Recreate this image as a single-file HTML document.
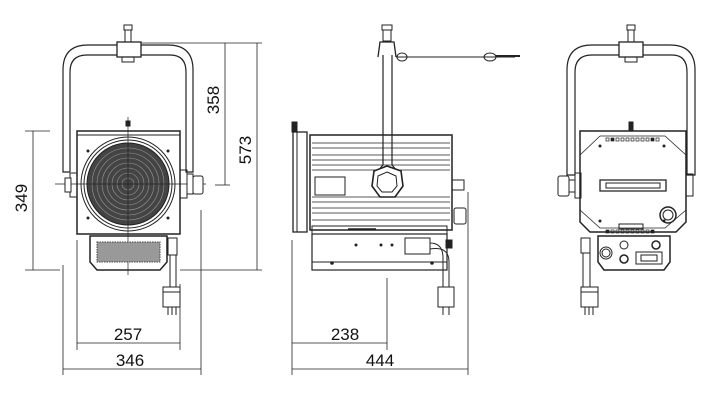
<!DOCTYPE html>
<html><head><meta charset="utf-8"><style>
html,body{margin:0;padding:0;background:#fff;}
svg{display:block;}
text{font-family:"Liberation Sans",sans-serif;font-size:17px;fill:#111;stroke:none;}
</style></head><body>
<svg width="715" height="400" viewBox="0 0 715 400" xmlns="http://www.w3.org/2000/svg" fill="none" stroke="#222" stroke-width="1">
<!-- ===== LEFT VIEW ===== -->
<path d="M70,172 L63,172 L63,70 Q63,45 88,45 L117,45 M141,45 L168,45 Q193,45 193,70 L193,172 L186,172 L186,72 Q186,55 170,55 L141,55 M117,55 L87,55 Q70,55 70,72 L70,172" stroke-width="1.2"/>
<rect x="117" y="42" width="24" height="15" stroke-width="1.3"/>
<rect x="122" y="57" width="12" height="5"/>
<rect x="125" y="27" width="6" height="15"/>
<rect x="124" y="25" width="8" height="5" fill="#fff"/>
<rect x="77" y="131" width="103" height="103" stroke-width="1.5"/>
<line x1="77" y1="135" x2="180" y2="135"/>
<rect x="126" y="121" width="4" height="5" fill="#222"/>
<circle cx="128" cy="184" r="47"/>
<circle cx="128" cy="184" r="44"/>
<circle cx="128" cy="184" r="41" fill="#444"/>
<g stroke="#999" stroke-width="0.6">
<circle cx="128" cy="184" r="36"/><circle cx="128" cy="184" r="31"/><circle cx="128" cy="184" r="26"/><circle cx="128" cy="184" r="21"/><circle cx="128" cy="184" r="16"/><circle cx="128" cy="184" r="11"/><circle cx="128" cy="184" r="6"/>
</g>
<g fill="#222" stroke="none"><circle cx="88" cy="151" r="1.5"/><circle cx="168" cy="151" r="1.5"/><circle cx="88" cy="218" r="1.5"/><circle cx="168" cy="218" r="1.5"/></g>
<line x1="55" y1="184" x2="206" y2="184" stroke-width="0.7"/>
<line x1="128" y1="117" x2="128" y2="275" stroke-width="0.7"/>
<rect x="70" y="173" width="7" height="24"/>
<rect x="65" y="178" width="6" height="14" fill="#fff"/>
<rect x="180" y="170" width="7" height="28"/>
<rect x="187" y="174" width="6" height="20" fill="#fff"/>
<rect x="193" y="176" width="10" height="18" rx="2" fill="#fff"/>
<path d="M90,236 L167,236 L167,262 L160,270 L97,270 L90,262 Z" stroke-width="1.5"/>
<rect x="97" y="242" width="63" height="20" fill="#999" stroke="#444" stroke-dasharray="1.5 1"/>
<rect x="168" y="238" width="9" height="17"/>
<line x1="170" y1="255" x2="170" y2="287"/><line x1="176" y1="255" x2="176" y2="287"/>
<rect x="163" y="287" width="17" height="20"/>
<line x1="163" y1="292" x2="180" y2="292"/>
<line x1="168" y1="307" x2="168" y2="315"/><line x1="172" y1="307" x2="172" y2="315"/><line x1="176" y1="307" x2="176" y2="315"/>
<!-- dims left -->
<g stroke-width="0.8">
<line x1="141" y1="43" x2="262" y2="43"/>
<line x1="225" y1="43" x2="225" y2="185"/><line x1="215" y1="185" x2="230" y2="185"/>
<line x1="257" y1="43" x2="257" y2="270"/><line x1="180" y1="270" x2="262" y2="270"/>
<line x1="25" y1="131" x2="50" y2="131"/><line x1="25" y1="270" x2="60" y2="270"/>
<line x1="33" y1="131" x2="33" y2="270"/>
<line x1="77" y1="240" x2="77" y2="350"/><line x1="180" y1="284" x2="180" y2="350"/>
<line x1="77" y1="343" x2="180" y2="343"/>
<line x1="63" y1="265" x2="63" y2="375"/><line x1="201" y1="210" x2="201" y2="375"/>
<line x1="63" y1="369" x2="201" y2="369"/>
</g>
<text x="219" y="100" transform="rotate(-90 219 100)" text-anchor="middle">358</text>
<text x="251" y="150" transform="rotate(-90 251 150)" text-anchor="middle">573</text>
<text x="27" y="198" transform="rotate(-90 27 198)" text-anchor="middle">349</text>
<text x="128" y="340" text-anchor="middle">257</text>
<text x="130" y="366" text-anchor="middle">346</text>

<!-- ===== MIDDLE VIEW ===== -->
<rect x="383" y="27" width="8" height="14"/>
<rect x="382" y="25" width="10" height="5" fill="#fff"/>
<path d="M378,57 L380,42 L394,42 L396,57" stroke-width="1.3"/>
<line x1="396" y1="57" x2="515" y2="57"/>
<ellipse cx="402" cy="57" rx="5" ry="4"/>
<ellipse cx="490" cy="57" rx="6" ry="4"/>
<line x1="496" y1="56" x2="520" y2="56" stroke-width="2"/>
<rect x="293" y="132" width="14" height="100" stroke-width="1.3"/>
<line x1="297" y1="132" x2="297" y2="232"/>
<rect x="292" y="122" width="5" height="10" fill="#222"/>
<rect x="310" y="135" width="142" height="95" stroke-width="1.5"/>
<g stroke-width="0.8">
<line x1="312" y1="143" x2="450" y2="143"/><line x1="312" y1="148" x2="450" y2="148"/>
<line x1="312" y1="155" x2="450" y2="155"/><line x1="312" y1="160" x2="450" y2="160"/>
<line x1="312" y1="165" x2="450" y2="165"/><line x1="312" y1="170" x2="450" y2="170"/>
<line x1="312" y1="197" x2="450" y2="197"/><line x1="312" y1="202" x2="450" y2="202"/>
<line x1="312" y1="208" x2="450" y2="208"/><line x1="312" y1="213" x2="450" y2="213"/>
<line x1="312" y1="220" x2="450" y2="220"/>
</g>
<rect x="315" y="177" width="30" height="18"/>
<path d="M383,55 L383,165 Q378,170 378,175 M392,55 L392,165 Q397,170 397,175" stroke-width="1.2"/>
<polygon points="387,166 401,171 403,186 395,197 380,197 372,186 374,171" fill="#fff" stroke-width="1.6"/>
<polygon points="387,172 396,176 397,186 392,192 382,192 377,186 378,176" stroke-width="1"/>
<rect x="312" y="226" width="135" height="8"/>
<rect x="312" y="234" width="135" height="36" stroke-width="1.2"/>
<line x1="312" y1="262" x2="447" y2="262"/>
<circle cx="332" cy="263" r="1.3" fill="#222"/><circle cx="432" cy="263" r="1.3" fill="#222"/>
<circle cx="356" cy="245" r="1" fill="#222"/><circle cx="381" cy="245" r="1" fill="#222"/><circle cx="392" cy="245" r="1" fill="#222"/>
<line x1="348" y1="229" x2="376" y2="229" stroke-width="1.5"/>
<rect x="405" y="238" width="25" height="16"/>
<rect x="446" y="240" width="6" height="8" fill="#222"/>
<rect x="452" y="180" width="12" height="10"/>
<rect x="454" y="208" width="12" height="16" rx="2"/>
<path d="M430,243 Q443,243 443,258 L443,287 M430,249 Q449,246 449,262 L449,287" stroke-width="1"/>
<rect x="438" y="287" width="16" height="20"/>
<line x1="443" y1="307" x2="443" y2="315"/><line x1="449" y1="307" x2="449" y2="315"/>
<g stroke-width="0.8">
<line x1="292" y1="240" x2="292" y2="375"/>
<line x1="387" y1="278" x2="387" y2="350"/>
<line x1="468" y1="192" x2="468" y2="375"/>
<line x1="292" y1="343" x2="387" y2="343"/>
<line x1="292" y1="369" x2="468" y2="369"/>
</g>
<text x="345" y="340" text-anchor="middle">238</text>
<text x="380" y="366" text-anchor="middle">444</text>

<!-- ===== RIGHT VIEW ===== -->
<path d="M575,175 L567,175 L567,70 Q567,45 592,45 L619,45 M643,45 L670,45 Q695,45 695,70 L695,175 L687,175 L687,72 Q687,55 672,55 L643,55 M619,55 L592,55 Q575,55 575,72 L575,175" stroke-width="1.2"/>
<rect x="619" y="42" width="24" height="15" stroke-width="1.3"/>
<rect x="625" y="57" width="12" height="5"/>
<rect x="628" y="27" width="6" height="15"/>
<rect x="627" y="25" width="8" height="5" fill="#fff"/>
<rect x="629" y="122" width="4" height="9" fill="#222"/>
<path d="M580,131 L686,131 L686,222 L676,232 L590,232 L580,222 Z" stroke-width="1.5"/>
<path d="M600,136 L665,136 L686,155 M600,136 L580,155 M580,210 L600,228 L665,228 L686,210" stroke-width="0.8"/>
<g stroke-width="0.7">
<rect x="606" y="138" width="3" height="3"/><rect x="611" y="138" width="3" height="3" fill="#222"/><rect x="616" y="138" width="3" height="3"/><rect x="621" y="138" width="3" height="3"/><rect x="626" y="138" width="3" height="3"/><rect x="631" y="138" width="3" height="3"/><rect x="636" y="138" width="3" height="3"/><rect x="641" y="138" width="3" height="3"/><rect x="646" y="138" width="3" height="3"/><rect x="651" y="138" width="3" height="3" fill="#222"/><rect x="656" y="138" width="3" height="3"/>
<rect x="606" y="230" width="3" height="3" fill="#222"/><rect x="611" y="230" width="3" height="3"/><rect x="616" y="230" width="3" height="3"/><rect x="621" y="230" width="3" height="3"/><rect x="626" y="230" width="3" height="3"/><rect x="631" y="230" width="3" height="3"/><rect x="636" y="230" width="3" height="3"/><rect x="641" y="230" width="3" height="3"/><rect x="646" y="230" width="3" height="3"/><rect x="651" y="230" width="3" height="3" fill="#222"/>
</g>
<rect x="619" y="224" width="24" height="5"/>
<g fill="#222" stroke="none"><circle cx="600" cy="146" r="1.5"/><circle cx="664" cy="146" r="1.5"/><circle cx="600" cy="221" r="1.5"/><circle cx="664" cy="221" r="1.5"/></g>
<path d="M600,180 L666,180 L666,191 L600,191 Z" stroke-width="1.3"/>
<rect x="606" y="183" width="54" height="5"/>
<circle cx="668" cy="215" r="8" stroke-width="1.5"/><circle cx="668" cy="215" r="5"/>
<rect x="575" y="173" width="6" height="25"/>
<rect x="558" y="176" width="11" height="20" rx="2" fill="#fff"/>
<rect x="569" y="180" width="6" height="12"/>
<rect x="686" y="174" width="7" height="22"/>
<path d="M598,236 L670,236 L670,262 L664,270 L604,270 L598,262 Z" stroke-width="1.5"/>
<circle cx="606" cy="253" r="6"/><circle cx="606" cy="253" r="4"/>
<circle cx="624" cy="245" r="4"/><circle cx="624" cy="259" r="4" stroke-width="1.5"/>
<circle cx="656" cy="245" r="4" stroke-width="1.5"/>
<rect x="636" y="252" width="26" height="12"/><rect x="641" y="255" width="16" height="6"/>
<rect x="581" y="238" width="9" height="15"/>
<line x1="583" y1="253" x2="583" y2="287"/><line x1="590" y1="253" x2="590" y2="287"/>
<rect x="581" y="287" width="17" height="20"/>
<line x1="581" y1="292" x2="598" y2="292"/>
<line x1="585" y1="307" x2="585" y2="315"/><line x1="589" y1="307" x2="589" y2="315"/><line x1="593" y1="307" x2="593" y2="315"/>
</svg>
</body></html>
